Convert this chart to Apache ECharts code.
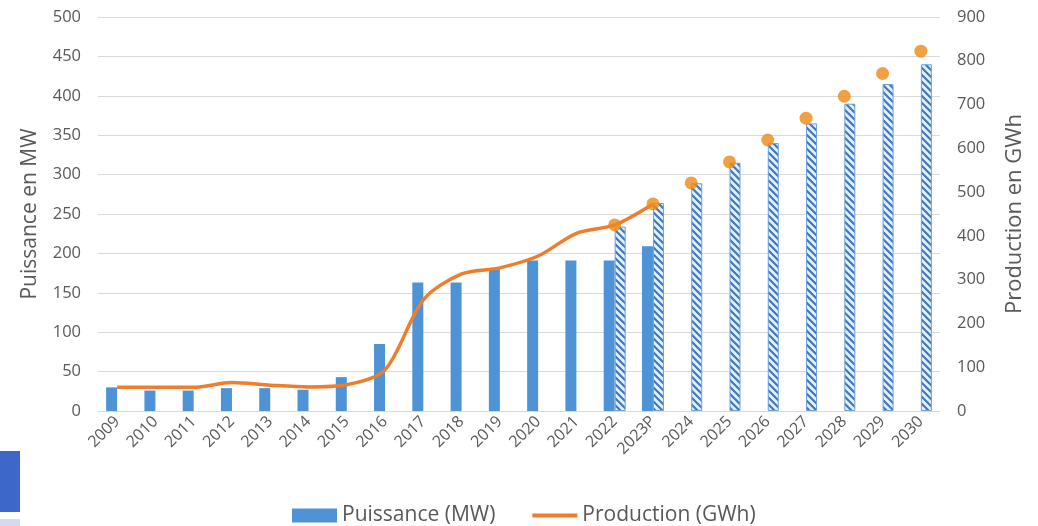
<!DOCTYPE html>
<html>
<head>
<meta charset="utf-8">
<script src="https://cdn.jsdelivr.net/npm/echarts@6/dist/echarts.min.js"></script>
<style>
html,body{margin:0;padding:0;background:#fff;}
#chart{width:1038px;height:526px;}
</style>
</head>
<body>
<div id="chart"></div>
<script>
const categories = ['2009','2010','2011','2012','2013','2014','2015','2016','2017','2018','2019','2020','2021','2022','2023P','2024','2025','2026','2027','2028','2029','2030'];
const puissanceReal = [30,26,26,29,29,27,43,85,163,163,181,191,191,191,209,null,null,null,null,null,null,null];
const puissanceProj = [null,null,null,null,null,null,null,null,null,null,null,null,null,234,264,289,315,340,365,390,415,440];
const productionLine = [54,54,54,65,59,55,60,94,254,313,327,354,406,425,473,null,null,null,null,null,null,null];
const productionProj = [null,null,null,null,null,null,null,null,null,null,null,null,null,425,473,521,569,619,669,719,771,822];
const leftTicks = {min:0,max:500,interval:50};
const rightTicks = {min:0,max:900,interval:100};

// hatch pattern
const pc = document.createElement('canvas');
pc.width = 7; pc.height = 7;
const g = pc.getContext('2d');
g.fillStyle = '#E3F1FF';
g.fillRect(0,0,7,7);
g.strokeStyle = '#3F78C0';
g.lineWidth = 2.2;
g.beginPath();
g.moveTo(-2,-2); g.lineTo(9,9);
g.moveTo(-2,5); g.lineTo(2,9);
g.moveTo(5,-2); g.lineTo(9,2);
g.stroke();

const font = 'Open Sans, Noto Sans, sans-serif';
const chart = echarts.init(document.getElementById('chart'));
chart.setOption({
  animation:false,
  textStyle:{fontFamily:font},
  grid:{left:98,right:98,top:17,bottom:115,containLabel:false},
  legend:{
    top:500,left:287,
    itemWidth:45,itemHeight:14,itemGap:35,
    textStyle:{fontSize:21,color:'#595959',fontFamily:font},
    data:[
      {name:'Puissance (MW)',icon:'rect',itemStyle:{color:'#4E93D6'}},
      {name:'Production (GWh)',itemStyle:{opacity:0},lineStyle:{width:4,color:'#EE7D2E'}}
    ]
  },
  xAxis:{
    type:'category',data:categories,
    axisLine:{lineStyle:{color:'#D9D9D9'}},
    axisTick:{show:false},
    axisLabel:{rotate:45,color:'#595959',fontSize:16,margin:8,interval:0}
  },
  yAxis:[
    {type:'value',min:leftTicks.min,max:leftTicks.max,interval:leftTicks.interval,
     name:'Puissance en MW',nameLocation:'middle',nameGap:57,nameRotate:90,
     nameTextStyle:{fontSize:21,color:'#595959'},
     axisLine:{show:false},axisTick:{show:false},
     axisLabel:{color:'#595959',fontSize:16.5,margin:17},
     splitLine:{lineStyle:{color:'#D9D9D9'}}},
    {type:'value',min:rightTicks.min,max:rightTicks.max,interval:rightTicks.interval,
     name:'Production en GWh',nameLocation:'middle',nameGap:64,nameRotate:90,
     nameTextStyle:{fontSize:22,color:'#595959'},
     axisLine:{show:false},axisTick:{show:false},
     axisLabel:{color:'#595959',fontSize:16.5,margin:17},
     splitLine:{show:false}}
  ],
  series:[
    {name:'Puissance (MW)',type:'bar',data:puissanceReal,barWidth:11,barGap:'0%',
     itemStyle:{color:'#4E93D6'}},
    {name:'Puissance projetée',type:'bar',data:puissanceProj,barWidth:11,barGap:'0%',
     itemStyle:{color:{image:pc,repetition:'repeat'},borderColor:'#6FA0D8',borderWidth:1}},
    {name:'Production (GWh)',type:'line',yAxisIndex:1,data:productionLine,smooth:0.3,
     symbol:'none',lineStyle:{color:'#EE7D2E',width:3.5},itemStyle:{color:'#EE7D2E'},z:5},
    {name:'Production projetée',type:'scatter',yAxisIndex:1,data:productionProj,
     symbolSize:13,itemStyle:{color:'#EE8A17'},z:6}
  ],
  graphic:[
    {type:'rect',shape:{x:0,y:451,width:20,height:61},style:{fill:'#3D67C9'}},
    {type:'rect',shape:{x:0,y:519,width:20,height:7},style:{fill:'#D3DBEE'}}
  ]
});
</script>
</body>
</html>
